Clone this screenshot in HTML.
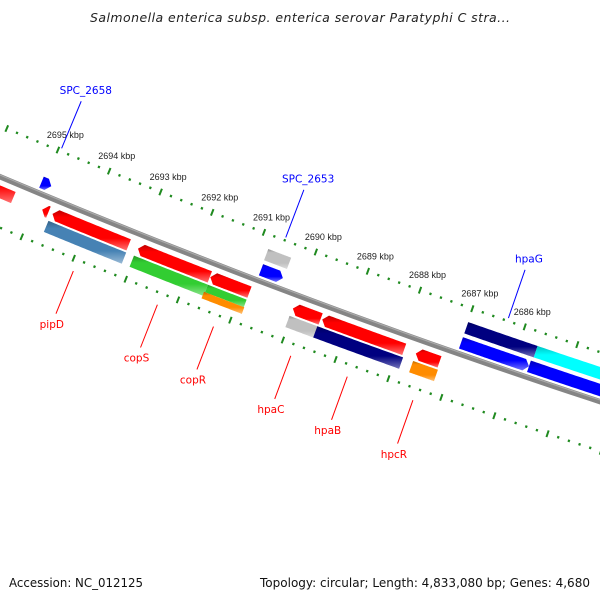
<!DOCTYPE html>
<html><head><meta charset="utf-8"><style>
html,body{margin:0;padding:0;background:#fff;}
svg{display:block;}
</style></head><body>
<svg id="map" width="600" height="600" viewBox="0 0 600 600" xmlns="http://www.w3.org/2000/svg">
<defs>
<linearGradient id="gshade" x1="0" y1="0" x2="0" y2="1">
<stop offset="0" stop-color="#000" stop-opacity="0.25"/>
<stop offset="0.18" stop-color="#000" stop-opacity="0"/>
<stop offset="0.7" stop-color="#fff" stop-opacity="0"/>
<stop offset="1" stop-color="#fff" stop-opacity="0.45"/>
</linearGradient>
</defs>
<text x="90" y="22" font-family="DejaVu Sans, sans-serif" font-style="italic" font-size="12.5" fill="#222" textLength="420" lengthAdjust="spacing">Salmonella enterica subsp. enterica serovar Paratyphi C stra...</text>
<g id="ticks"></g>
<g id="backbone"></g>
<g id="genes"></g>
<g id="labels"></g>
<text x="9" y="587" font-family="DejaVu Sans, sans-serif" font-size="12" fill="#111" textLength="134" lengthAdjust="spacingAndGlyphs">Accession: NC_012125</text>
<text x="590" y="587" text-anchor="end" font-family="DejaVu Sans, sans-serif" font-size="12" fill="#111" textLength="330" lengthAdjust="spacingAndGlyphs">Topology: circular; Length: 4,833,080 bp; Genes: 4,680</text>
</svg>
<script>
// ---- data (kbp) ----
const majorTicks = [2695, 2694, 2693, 2692, 2691, 2690, 2689, 2688, 2687, 2686];
const tickLabels = ["2695 kbp","2694 kbp","2693 kbp","2692 kbp","2691 kbp","2690 kbp","2689 kbp","2688 kbp","2687 kbp","2686 kbp"];
const geneNames  = ["g-left","g-tiny","pipD-cds","copS-cds","copR-cds","hpaC-cds","hpaB-cds","hpcR-cds",
                    "pipD-cog","copS-cog","copR-cog","copR-cog2","hpaC-cog","hpaB-cog","hpcR-cog",
                    "SPC_2658-cds","SPC_2653-cds","hpaG-cds","hpaG2-cds","SPC_2653-cog","hpaG-cog","hpaG2-cog"];
const geneStart  = [2697.5,2694.85,2694.65,2693.00,2691.61,2690.03,2689.47,2687.69,
                    2694.67,2693.02,2691.60,2691.62,2690.04,2689.51,2687.69,
                    2695.05,2690.81,2686.99,2685.70,2690.82,2686.99,2685.67];
const geneEnd    = [2695.41,2694.73,2693.18,2691.62,2690.86,2689.50,2687.91,2687.24,
                    2693.17,2691.60,2690.86,2690.85,2689.50,2687.88,2687.22,
                    2694.86,2690.39,2685.70,2683.50,2690.38,2685.67,2683.50];
const geneTrack  = ["B1","B1","B1","B1","B1","B1","B1","B1",
                    "B2","B2","B2b","B3","B2","B2","B2",
                    "A1","A1","A1","A1","A2","A2","A2"];
const geneColor  = ["#ff0000","#ff0000","#ff0000","#ff0000","#ff0000","#ff0000","#ff0000","#ff0000",
                    "#4682b4","#32cd32","#32cd32","#ff8c00","#c0c0c0","#000080","#ff8c00",
                    "#0000ff","#0000ff","#0000ff","#0000ff","#c0c0c0","#000080","#00ffff"];
const labelNames = ["SPC_2658","SPC_2653","hpaG","pipD","copS","copR","hpaC","hpaB","hpcR"];
const labelPos   = [2694.95,2690.60,2686.33,2693.92,2692.31,2691.24,2689.77,2688.70,2687.46];
const labelSide  = ["up","up","up","down","down","down","down","down","down"];

// ---- geometry ----
const NS="http://www.w3.org/2000/svg";
const CX=2999, CY=-6912, R0=7697;
const A0=112.61, DEG_PER_KBP=0.4155;
function P(bp,v){const a=(A0-(2695-bp)*DEG_PER_KBP)*Math.PI/180;const r=R0+v;return [CX+r*Math.cos(a),CY+r*Math.sin(a)];}
const tracks={A2:[-33,-21],A1:[-17,-5],B1:[8,20],B2:[22,34],B2b:[22,30],B3:[30,37]};
function mk(tag,attrs,parent){const e=document.createElementNS(NS,tag);for(const k in attrs)e.setAttribute(k,attrs[k]);parent.appendChild(e);return e;}
const f=n=>n.toFixed(2);

// ticks
const tg=document.getElementById('ticks');
[-47,47].forEach(function(ring){
  for(let k=0;k<=70;k++){
    const bp=2697.6-k*0.2;
    const isMajor=Math.abs(bp-Math.round(bp))<0.01;
    const len=isMajor?7:2.4;
    const p1=P(bp,ring-len/2),p2=P(bp,ring+len/2);
    const t=mk('line',{x1:f(p1[0]),y1:f(p1[1]),x2:f(p2[0]),y2:f(p2[1]),stroke:'#1f8a1f','stroke-width':isMajor?2:2.2},tg);
    
    
  }
});
majorTicks.forEach(function(bp,i){
  const p=P(bp,-47);
  const t=mk('text',{x:f(p[0]-11),y:f(p[1]-12),'font-family':'Liberation Sans, sans-serif','font-size':'9',fill:'#222'},tg);
  t.textContent=tickLabels[i];
  
  
});

// backbone
const bg=document.getElementById('backbone');
function arcPts(b1,b2,v){const pts=[];for(let i=0;i<=40;i++){pts.push(P(b1+(b2-b1)*i/40,v));}return pts;}
const bpts=arcPts(2698,2683,0).map(p=>f(p[0])+','+f(p[1])).join(' ');
const bl=mk('polyline',{points:bpts,fill:'none',stroke:'#858585','stroke-width':5.5},bg);


const bh=mk('polyline',{points:arcPts(2698,2683,-1.6).map(p=>f(p[0])+','+f(p[1])).join(' '),fill:'none',stroke:'#aaa','stroke-width':1.2},bg);



// genes
const gg=document.getElementById('genes');
const AL=0.09;
geneNames.forEach(function(name,i){
  const tr=tracks[geneTrack[i]];const v1=tr[0],v2=tr[1],vm=(v1+v2)/2;
  const s=geneStart[i],e=geneEnd[i];
  let pts=[];
  const arrowLeft=geneTrack[i]==='B1', arrowRight=geneTrack[i]==='A1';
  if(arrowLeft){
    const bodyS=Math.max(e,s-AL);
    pts.push(P(s,vm));
    pts=pts.concat(arcPts(bodyS,e,v1));
    pts=pts.concat(arcPts(e,bodyS,v2));
  } else if(arrowRight){
    const bodyE=Math.min(s,e+AL);
    pts=pts.concat(arcPts(s,bodyE,v1));
    pts.push(P(e,vm));
    pts=pts.concat(arcPts(bodyE,s,v2));
  } else {
    pts=pts.concat(arcPts(s,e,v1));
    pts=pts.concat(arcPts(e,s,v2));
  }
  const d='M'+pts.map(p=>f(p[0])+','+f(p[1])).join('L')+'Z';
  const g=mk('g',{},gg);
  
  
  mk('path',{d:d,fill:geneColor[i]},g);
  mk('path',{d:d,fill:'url(#gshade)'},g);
});

// labels
const lg=document.getElementById('labels');
labelNames.forEach(function(name,i){
  const up=labelSide[i]==='up';
  const col=up?'#0000ff':'#ff0000';
  const a=up?P(labelPos[i],-50):P(labelPos[i],59);
  const b=up?P(labelPos[i],-101):P(labelPos[i],105);
  const c=up?P(labelPos[i],-113):P(labelPos[i],116);
  const ln=mk('line',{x1:f(a[0]),y1:f(a[1]),x2:f(b[0]),y2:f(b[1]),stroke:col,'stroke-width':1},lg);
  
  
  const t=mk('text',{x:f(c[0]),y:f(c[1]+4),'text-anchor':'middle','font-family':'DejaVu Sans, sans-serif','font-size':'10.5',fill:col},lg);
  t.textContent=name;
  
  
});
</script>
</body></html>
